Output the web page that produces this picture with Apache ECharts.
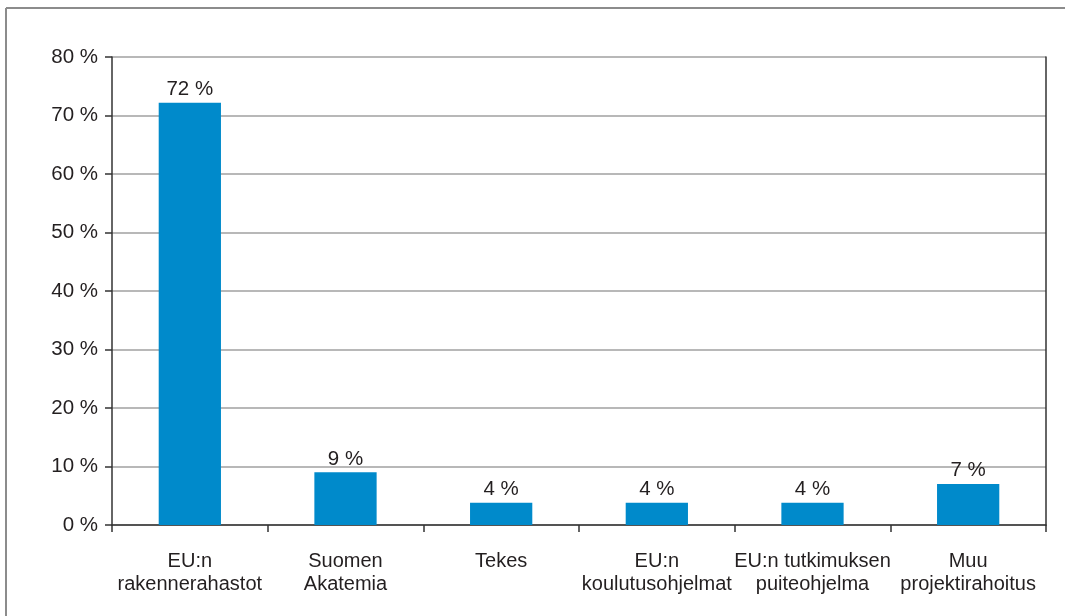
<!DOCTYPE html>
<html>
<head>
<meta charset="utf-8">
<script src="https://cdn.jsdelivr.net/npm/echarts@6/dist/echarts.min.js"></script>
<style>
html,body{margin:0;padding:0;background:#fff;}
#chart{width:1074px;height:616px;}
</style>
</head>
<body>
<div id="chart"></div>
<script>
var categories = ['EU:n\nrakennerahastot', 'Suomen\nAkatemia', 'Tekes', 'EU:n\nkoulutusohjelmat', 'EU:n tutkimuksen\npuiteohjelma', 'Muu\nprojektirahoitus'];
var values = [72.2, 9.0, 3.8, 3.8, 3.8, 7.0];
var valueLabels = ['72 %', '9 %', '4 %', '4 %', '4 %', '7 %'];
var yTicks = [0, 10, 20, 30, 40, 50, 60, 70, 80];

var FONT = '"Liberation Sans Narrow", "Arial Narrow", "Liberation Sans", Arial, sans-serif';
var TEXT = '#231f20';

var chart = echarts.init(document.getElementById('chart'), null, {renderer: 'canvas'});
chart.setOption({
  animation: false,
  backgroundColor: '#fff',
  graphic: [
    {type: 'line', shape: {x1: 6, y1: 8, x2: 1065, y2: 8}, style: {stroke: '#8c8c8c', lineWidth: 2}},
    {type: 'line', shape: {x1: 6, y1: 8, x2: 6, y2: 620}, style: {stroke: '#8c8c8c', lineWidth: 2}}
  ],
  grid: {left: 112, right: 28, top: 57, bottom: 91, containLabel: false},
  xAxis: {
    type: 'category',
    data: categories,
    axisLine: {show: true, lineStyle: {color: '#333', width: 1.5}},
    axisTick: {show: true, alignWithLabel: false, length: 7, lineStyle: {color: '#333', width: 1.5}},
    axisLabel: {fontFamily: FONT, fontSize: 20, color: TEXT, margin: 25, lineHeight: 23, interval: 0},
    splitLine: {show: false}
  },
  yAxis: [{
    type: 'value',
    min: yTicks[0],
    max: yTicks[yTicks.length - 1],
    interval: 10,
    axisLine: {show: true, lineStyle: {color: '#333', width: 1.5}},
    axisTick: {show: true, length: 7, lineStyle: {color: '#333', width: 1.5}},
    axisLabel: {fontFamily: FONT, fontSize: 20.5, color: TEXT, margin: 14, formatter: function (v) { return v + ' %'; }},
    splitLine: {show: true, lineStyle: {color: '#a0a0a0', width: 1.5}}
  }, {
    type: 'value',
    position: 'right',
    min: yTicks[0],
    max: yTicks[yTicks.length - 1],
    interval: 10,
    axisLine: {show: true, lineStyle: {color: '#333', width: 1.5}},
    axisTick: {show: false},
    axisLabel: {show: false},
    splitLine: {show: false}
  }],
  series: [{
    type: 'bar',
    data: values,
    barWidth: '40%',
    itemStyle: {color: '#008ACB'},
    label: {
      show: true,
      position: 'top',
      distance: 3,
      fontFamily: FONT,
      fontSize: 20.5,
      color: TEXT,
      formatter: function (p) { return valueLabels[p.dataIndex]; }
    }
  }]
});
</script>
</body>
</html>
